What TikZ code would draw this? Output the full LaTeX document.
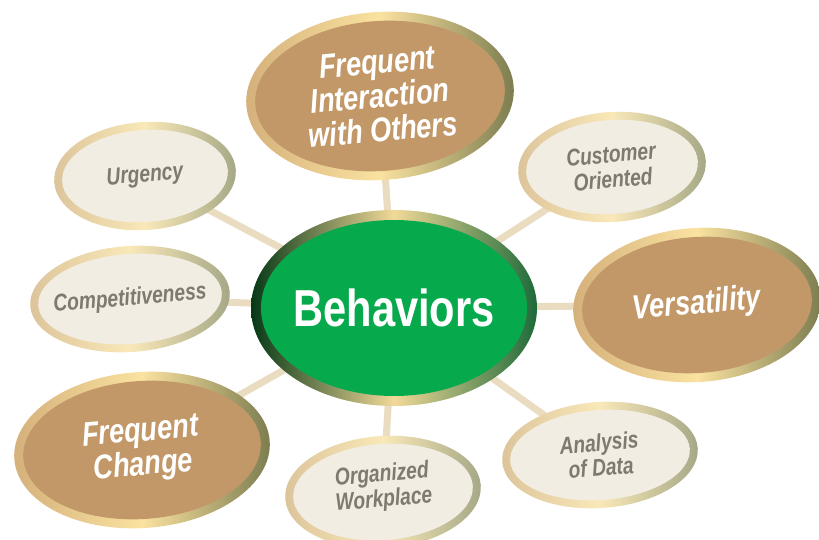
\documentclass[tikz,border=0pt]{standalone}
\usepackage{fontspec}
\setmainfont{Liberation Sans}[FakeStretch=0.8]
\usetikzlibrary{shapes.geometric,backgrounds}

\definecolor{linkcol}{HTML}{EADCC1}
\definecolor{brownfill}{HTML}{C29868}
\definecolor{brownL}{HTML}{D4B07A}
\definecolor{brownM}{HTML}{FAE2A0}
\definecolor{brownR}{HTML}{7A7B4E}
\definecolor{paleFill}{HTML}{F1EDE3}
\definecolor{paleL}{HTML}{DCC49A}
\definecolor{paleM}{HTML}{F9E8B8}
\definecolor{paleR}{HTML}{A4A785}
\definecolor{paleText}{HTML}{7E7A6F}
\definecolor{hubFill}{HTML}{06AA4C}
\definecolor{hubL}{HTML}{063816}
\definecolor{hubM}{HTML}{F2D998}
\definecolor{hubR}{HTML}{1E6A39}

\tikzset{
  bubble/.style={ellipse, inner sep=0pt, outer sep=0pt},
  brownrim/.style={bubble, left color=brownL, right color=brownR, middle color=brownM},
  browncore/.style={bubble, fill=brownfill},
  browntext/.style={text=white, align=center, inner sep=0pt, rotate=5,
    font=\bfseries\itshape\fontsize{34}{34}\selectfont},
  palerim/.style={bubble, left color=paleL, right color=paleR, middle color=paleM},
  palecore/.style={bubble, fill=paleFill},
  paletext/.style={text=paleText, align=center, inner sep=0pt, rotate=5,
    font=\bfseries\itshape\fontsize{24}{25}\selectfont},
  hubrim/.style={bubble, left color=hubL, right color=hubR, middle color=hubM},
  hubcore/.style={bubble, fill=hubFill},
  hubtext/.style={text=white, inner sep=0pt,
    font=\bfseries\fontsize{52}{52}\selectfont},
  link/.style={draw=linkcol, line width=7pt},
}

\begin{document}
\begin{tikzpicture}[x=1pt,y=-1pt]
\useasboundingbox (0,0) rectangle (819,540);

% central hub
\node[hubrim, minimum width=286pt, minimum height=196pt] (hub) at (394,308) {};
\node[hubcore, minimum width=266pt, minimum height=176pt] (hubc) at (hub) {};
\node[hubtext] (hubt) at (hub) {Behaviors};

% large brown bubbles
\node[brownrim, rotate=4, minimum width=268pt, minimum height=168pt] (inter) at (380,96) {};
\node[browncore, rotate=4, minimum width=250pt, minimum height=150pt] (interc) at (inter) {};
\node[browntext] (intert) at (inter) {Frequent\\Interaction\\with Others};

\node[brownrim, rotate=4, minimum width=248pt, minimum height=154pt] (vers) at (697,305) {};
\node[browncore, rotate=4, minimum width=230pt, minimum height=136pt] (versc) at (vers) {};
\node[browntext] (verst) at (vers) {Versatility};

\node[brownrim, rotate=4, minimum width=256pt, minimum height=156pt] (change) at (142,450) {};
\node[browncore, rotate=4, minimum width=238pt, minimum height=138pt] (changec) at (change) {};
\node[browntext] (changet) at (change) {Frequent\\Change};

% small pale bubbles
\node[palerim, rotate=4, minimum width=182pt, minimum height=108pt] (urg) at (145,176) {};
\node[palecore, rotate=4, minimum width=166pt, minimum height=92pt] (urgc) at (urg) {};
\node[paletext] (urgt) at (urg) {Urgency};

\node[palerim, rotate=4, minimum width=200pt, minimum height=106pt] (comp) at (130,299) {};
\node[palecore, rotate=4, minimum width=184pt, minimum height=90pt] (compc) at (comp) {};
\node[paletext] (compt) at (comp) {Competitiveness};

\node[palerim, rotate=4, minimum width=188pt, minimum height=110pt] (cust) at (612,167) {};
\node[palecore, rotate=4, minimum width=172pt, minimum height=94pt] (custc) at (cust) {};
\node[paletext] (custt) at (cust) {Customer\\Oriented};

\node[palerim, rotate=4, minimum width=196pt, minimum height=106pt] (anal) at (600,455) {};
\node[palecore, rotate=4, minimum width=180pt, minimum height=90pt] (analc) at (anal) {};
\node[paletext] (analt) at (anal) {Analysis\\of Data};

\node[palerim, rotate=4, minimum width=196pt, minimum height=112pt] (org) at (383,492) {};
\node[palecore, rotate=4, minimum width=180pt, minimum height=96pt] (orgc) at (org) {};
\node[paletext] (orgt) at ([shift={(0,-4)}]org) {Organized\\Workplace};

% spokes behind the bubbles
\begin{scope}[on background layer]
  \foreach \n in {inter,vers,change,urg,comp,cust,anal,org}
    \draw[link] (hub.center) -- (\n.center);
\end{scope}
\end{tikzpicture}
\end{document}
